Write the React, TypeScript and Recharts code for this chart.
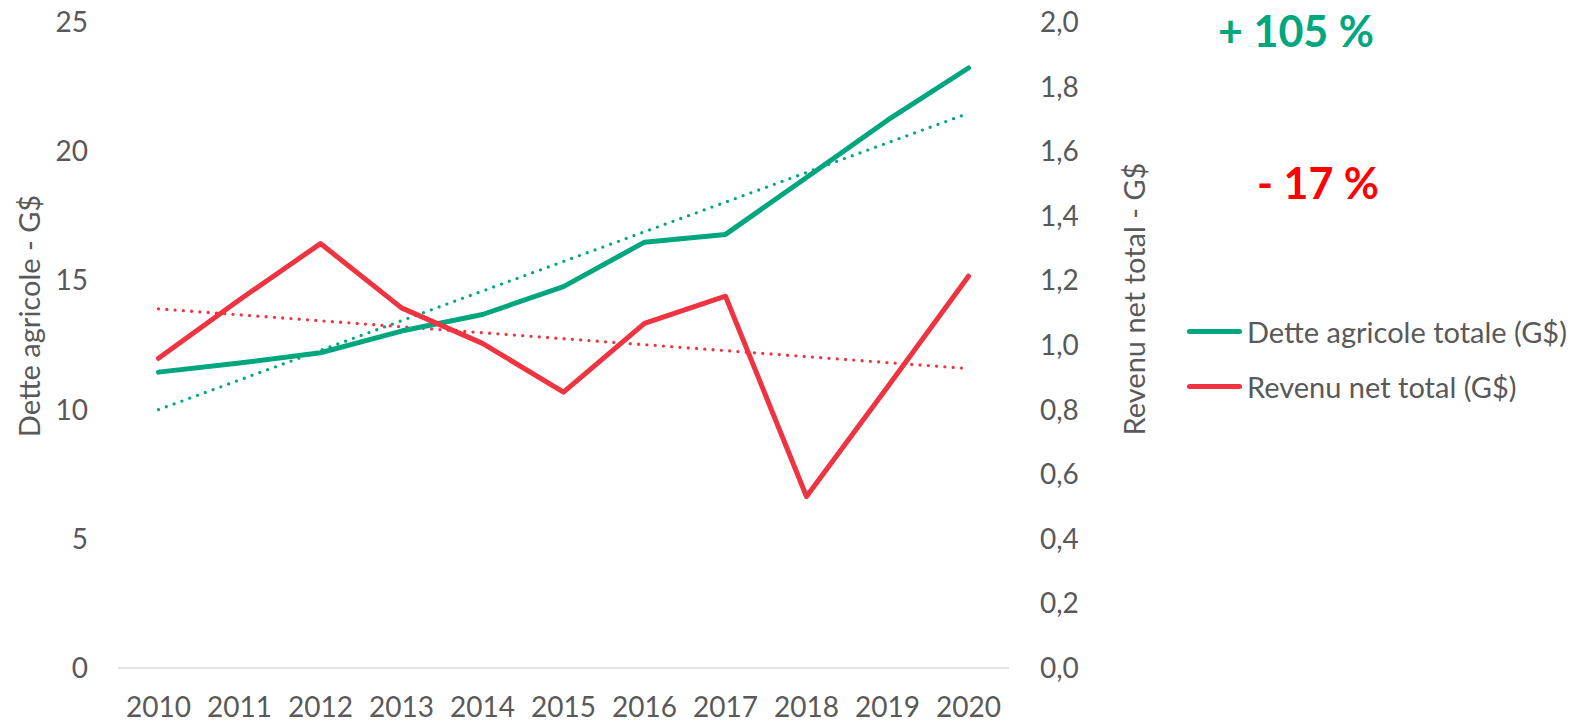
import { Line, LineChart, XAxis, YAxis } from "recharts";

const years = ["2010", "2011", "2012", "2013", "2014", "2015", "2016", "2017", "2018", "2019", "2020"];
// Dette agricole totale (G$) - left axis
const debt = [11.45, 11.8, 12.2, 13.04, 13.68, 14.76, 16.48, 16.78, 18.98, 21.2, 23.22];
// Revenu net total (G$) - right axis
const income = [0.959, 1.14, 1.314, 1.115, 1.005, 0.854, 1.067, 1.151, 0.531, 0.87, 1.213];
// linear trend lines, read at first and last year only
const debtTrend = [10.0, null, null, null, null, null, null, null, null, null, 21.47];
const incomeTrend = [1.112, null, null, null, null, null, null, null, null, null, 0.927];

const leftTicks = [0, 5, 10, 15, 20, 25];
const rightTicks = [0, 0.2, 0.4, 0.6, 0.8, 1.0, 1.2, 1.4, 1.6, 1.8, 2.0];

const GREEN = "#00A67E";
const RED = "#EF3340";
const TEXT = "#595959";
const FONT = "Lato, 'Open Sans', sans-serif";

const rows = years.map((y, i) => ({
  year: y,
  debt: debt[i],
  income: income[i],
  debtTrend: debtTrend[i],
  incomeTrend: incomeTrend[i],
}));

const legendItems = [
  { label: "Dette agricole totale (G$)", color: GREEN },
  { label: "Revenu net total (G$)", color: RED },
];

const tickStyle = { fill: TEXT, fontSize: 28, fontFamily: FONT };

const vTitle = (x: number, y: number): React.CSSProperties => ({
  position: "absolute",
  left: x,
  top: y,
  transform: "translate(-50%, -50%) rotate(-90deg)",
  whiteSpace: "nowrap",
  fontFamily: FONT,
  fontSize: 29,
  color: TEXT,
  lineHeight: 1,
});

const bigLabel = (x: number, y: number, color: string): React.CSSProperties => ({
  position: "absolute",
  left: x,
  top: y,
  transform: "translate(-50%, -50%)",
  fontFamily: FONT,
  fontWeight: 700,
  fontSize: 43,
  color,
  whiteSpace: "nowrap",
  lineHeight: 1,
});

export default function App() {
  return (
    <div style={{ position: "absolute", left: 0, top: 0, width: 1579, height: 722, background: "#fff" }}>
      <LineChart
        width={1579}
        height={722}
        data={rows}
        margin={{ top: 22, right: 0, left: 0, bottom: 0 }}
      >
        <XAxis
          dataKey="year"
          height={54}
          padding={{ left: 40.5, right: 40.5 }}
          tickLine={false}
          tickSize={0}
          tickMargin={29}
          stroke="#D9D9D9"
          strokeWidth={1.5}
          tick={tickStyle}
        />
        <YAxis
          yAxisId="left"
          width={118}
          domain={[0, 25]}
          ticks={leftTicks}
          axisLine={false}
          tickLine={false}
          tickSize={0}
          tickMargin={30}
          tick={tickStyle}
        />
        <YAxis
          yAxisId="right"
          orientation="right"
          width={570}
          domain={[0, 2]}
          ticks={rightTicks}
          axisLine={false}
          tickLine={false}
          tickSize={0}
          tickMargin={31}
          tickFormatter={(v: number) => v.toFixed(1).replace(".", ",")}
          tick={tickStyle}
        />
        <Line
          yAxisId="left"
          dataKey="debtTrend"
          stroke={GREEN}
          strokeWidth={3.3}
          strokeDasharray="0 8.3"
          strokeLinecap="round"
          dot={false}
          connectNulls
          isAnimationActive={false}
        />
        <Line
          yAxisId="right"
          dataKey="incomeTrend"
          stroke={RED}
          strokeWidth={3.3}
          strokeDasharray="0 8.3"
          strokeLinecap="round"
          dot={false}
          connectNulls
          isAnimationActive={false}
        />
        <Line
          yAxisId="left"
          dataKey="debt"
          stroke={GREEN}
          strokeWidth={5}
          strokeLinecap="round"
          strokeLinejoin="round"
          dot={false}
          isAnimationActive={false}
        />
        <Line
          yAxisId="right"
          dataKey="income"
          stroke={RED}
          strokeWidth={5}
          strokeLinecap="round"
          strokeLinejoin="round"
          dot={false}
          isAnimationActive={false}
        />
      </LineChart>

      {/* legend */}
      <div style={{ position: "absolute", left: 1187, top: 304, fontFamily: FONT, fontSize: 29, color: TEXT }}>
        {legendItems.map((it) => (
          <div key={it.label} style={{ display: "flex", alignItems: "center", height: 55 }}>
            <div style={{ width: 55, height: 5, background: it.color, borderRadius: 3, marginRight: 5 }} />
            <span style={{ whiteSpace: "nowrap", lineHeight: 1 }}>{it.label}</span>
          </div>
        ))}
      </div>

      <div style={vTitle(28, 316)}>Dette agricole - G$</div>
      <div style={vTitle(1133, 299)}>Revenu net total - G$</div>

      <div style={bigLabel(1296, 30, GREEN)}>+ 105 %</div>
      <div style={bigLabel(1318, 182, "#FF0000")}>- 17 %</div>
    </div>
  );
}
